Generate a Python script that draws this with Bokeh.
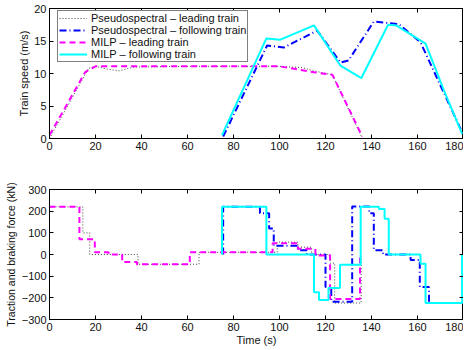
from bokeh.plotting import figure
from bokeh.models import Range1d, LinearAxis, FixedTicker, Legend, LegendItem
from bokeh.layouts import column
from bokeh.embed import file_html
from bokeh.resources import INLINE

FONT = "Liberation Sans"

# ---- data: speed (top panel) ----
ps_lead_t = [0, 17, 20, 25, 30, 37, 60, 100, 110, 115, 123, 136]
ps_lead_v = [0, 10.8, 11.1, 10.7, 10.4, 11.0, 11.1, 11.1, 10.9, 10.4, 9.8, 0]
ps_follow_t = [75.5, 94.6, 101.9, 116.4, 126.5, 130, 141, 151.9, 161.3, 180]
ps_follow_v = [0.3, 14.3, 14.0, 16.6, 11.7, 12.0, 18.0, 17.6, 14.8, 0.5]
milp_lead_t = [0, 15.5, 20, 100, 115, 123, 136]
milp_lead_v = [0.5, 10.2, 11.1, 11.1, 10.2, 9.8, 0.3]
milp_follow_t = [75, 94.3, 100.4, 115, 126.5, 135.6, 147.2, 150.7, 163.5, 171.5, 179.4]
milp_follow_v = [0.5, 15.4, 15.2, 17.4, 11.2, 9.3, 17.5, 17.4, 14.6, 7.4, 0.7]

# ---- data: traction / braking force (bottom panel), step changes ----
ps_lead_ft = [0, 14.5, 17.5, 38.5, 65, 99, 108, 114, 122, 124, 135.5]
ps_lead_f = [220, 100, 0, -45, 10, 57, 34, 0, -40, -224, 0]
ps_follow_ft = [75.5, 75.5, 91.5, 95.5, 97.5, 108, 112, 120, 122.5, 131.6, 139, 141, 145, 157, 161, 165, 180]
ps_follow_f = [0, 220, 190, 120, 40, 20, 0, -150, -218, 222, 190, 20, 0, -25, -150, -224, 0]
milp_lead_ft = [0, 13, 19.7, 25.7, 31.6, 38, 61, 97, 108, 115.6, 122, 135]
milp_lead_f = [220, 70, 10, 0, -35, -45, 10, 52, 26, -5, -205, 0]
milp_follow_ft = [75, 75, 94.3, 115, 117.2, 121.3, 126.3, 135.3, 143.2, 145.7, 147.5, 161.3, 163.5, 179.4]
milp_follow_f = [0, 220, 0, -174, -210, -155, -47, 220, 210, 165, 0, -43, -224, 0]

# ---- ticks / labels ----
time_ticks = [0, 20, 40, 60, 80, 100, 120, 140, 160, 180]
speed_ticks = [0, 5, 10, 15, 20]
force_ticks = [-300, -200, -100, 0, 100, 200, 300]
force_tick_labels = ["\u2212300", "\u2212200", "\u2212100", "0", "100", "200", "300"]
legend_labels = ["Pseudospectral \u2013 leading train", "Pseudospectral \u2013 following train",
                 "MILP \u2013 leading train", "MILP \u2013 following train"]

C_GREY = "#444444"
C_BLUE = "#0000ff"
C_MAG = "#ff00ff"
C_CYAN = "#00ffff"


def style_axis(ax, ticks, show_labels=True):
    ax.ticker = FixedTicker(ticks=ticks)
    ax.major_tick_in = 4
    ax.major_tick_out = 0
    ax.minor_tick_line_color = None
    ax.axis_line_color = "black"
    ax.major_tick_line_color = "black"
    ax.major_label_text_font = FONT
    ax.axis_label_text_font = FONT
    ax.axis_label_text_font_style = "normal"
    ax.axis_label_text_font_size = "11px"
    ax.axis_label_text_color = "#111111"
    if show_labels:
        ax.major_label_text_color = "#111111"
        ax.major_label_text_font_size = "11px"
        ax.major_label_standoff = 3
    else:
        ax.major_label_text_color = None
        ax.major_label_text_font_size = "0px"
        ax.major_label_standoff = 0


def make_fig(y_range, min_top, min_bottom):
    p = figure(frame_width=414, frame_height=130, x_range=Range1d(0, 180), y_range=y_range,
               output_backend="svg", toolbar_location=None,
               min_border_left=49, min_border_right=0,
               min_border_top=min_top, min_border_bottom=min_bottom)
    p.xgrid.grid_line_color = None
    p.ygrid.grid_line_color = None
    p.outline_line_color = "black"
    p.outline_line_width = 1
    p.outline_line_alpha = 1
    p.background_fill_color = "white"
    p.border_fill_color = "white"
    return p


# ---------------- top panel ----------------
p1 = make_fig(Range1d(0, 20), 8, 40)
style_axis(p1.xaxis[0], time_ticks)
style_axis(p1.yaxis[0], speed_ticks)
p1.yaxis[0].axis_label = "Train speed (m/s)"
p1.yaxis[0].axis_label_standoff = 1
ax_top = LinearAxis()
style_axis(ax_top, time_ticks, show_labels=False)
p1.add_layout(ax_top, "above")
ax_right = LinearAxis()
style_axis(ax_right, speed_ticks, show_labels=False)
p1.add_layout(ax_right, "right")

r1 = p1.line(ps_lead_t, ps_lead_v, line_color=C_GREY, line_width=1, line_dash="1 2")
r2 = p1.line(ps_follow_t, ps_follow_v, line_color=C_BLUE, line_width=2, line_dash="7 3 1 3")
r3 = p1.line(milp_lead_t, milp_lead_v, line_color=C_MAG, line_width=2, line_dash="6 4")
r4 = p1.line(milp_follow_t, milp_follow_v, line_color=C_CYAN, line_width=2)

legend = Legend(items=[LegendItem(label=legend_labels[0], renderers=[r1]),
                       LegendItem(label=legend_labels[1], renderers=[r2]),
                       LegendItem(label=legend_labels[2], renderers=[r3]),
                       LegendItem(label=legend_labels[3], renderers=[r4])],
                location=(8, 76))
legend.label_text_font = FONT
legend.label_text_font_size = "11px"
legend.label_text_color = "#111111"
legend.label_height = 12
legend.glyph_height = 12
legend.glyph_width = 28
legend.spacing = 0
legend.padding = 1
legend.margin = 0
legend.label_standoff = 4
legend.border_line_color = "black"
legend.border_line_width = 1
legend.background_fill_alpha = 1
p1.add_layout(legend)

# ---------------- bottom panel ----------------
p2 = make_fig(Range1d(-300, 300), 11, 20)
style_axis(p2.xaxis[0], time_ticks)
style_axis(p2.yaxis[0], force_ticks)
p2.yaxis[0].major_label_overrides = dict(zip(force_ticks, force_tick_labels))
p2.yaxis[0].axis_label = "Traction and braking force (kN)"
p2.yaxis[0].axis_label_text_font_size = "10.5px"
p2.yaxis[0].axis_label_standoff = 2
p2.xaxis[0].axis_label = "Time (s)"
p2.xaxis[0].axis_label_standoff = 0
ax_top2 = LinearAxis()
style_axis(ax_top2, time_ticks, show_labels=False)
p2.add_layout(ax_top2, "above")
ax_right2 = LinearAxis()
style_axis(ax_right2, force_ticks, show_labels=False)
p2.add_layout(ax_right2, "right")

p2.step(ps_lead_ft, ps_lead_f, mode="after", line_color=C_GREY, line_width=1, line_dash="1 2")
p2.step(ps_follow_ft, ps_follow_f, mode="after", line_color=C_BLUE, line_width=2, line_dash="7 3 1 3")
p2.step(milp_lead_ft, milp_lead_f, mode="after", line_color=C_MAG, line_width=2, line_dash="6 4")
p2.step(milp_follow_ft, milp_follow_f, mode="after", line_color=C_CYAN, line_width=2)

layout = column(p1, p2, spacing=0)
open("out.html", "w").write(file_html(layout, INLINE))
